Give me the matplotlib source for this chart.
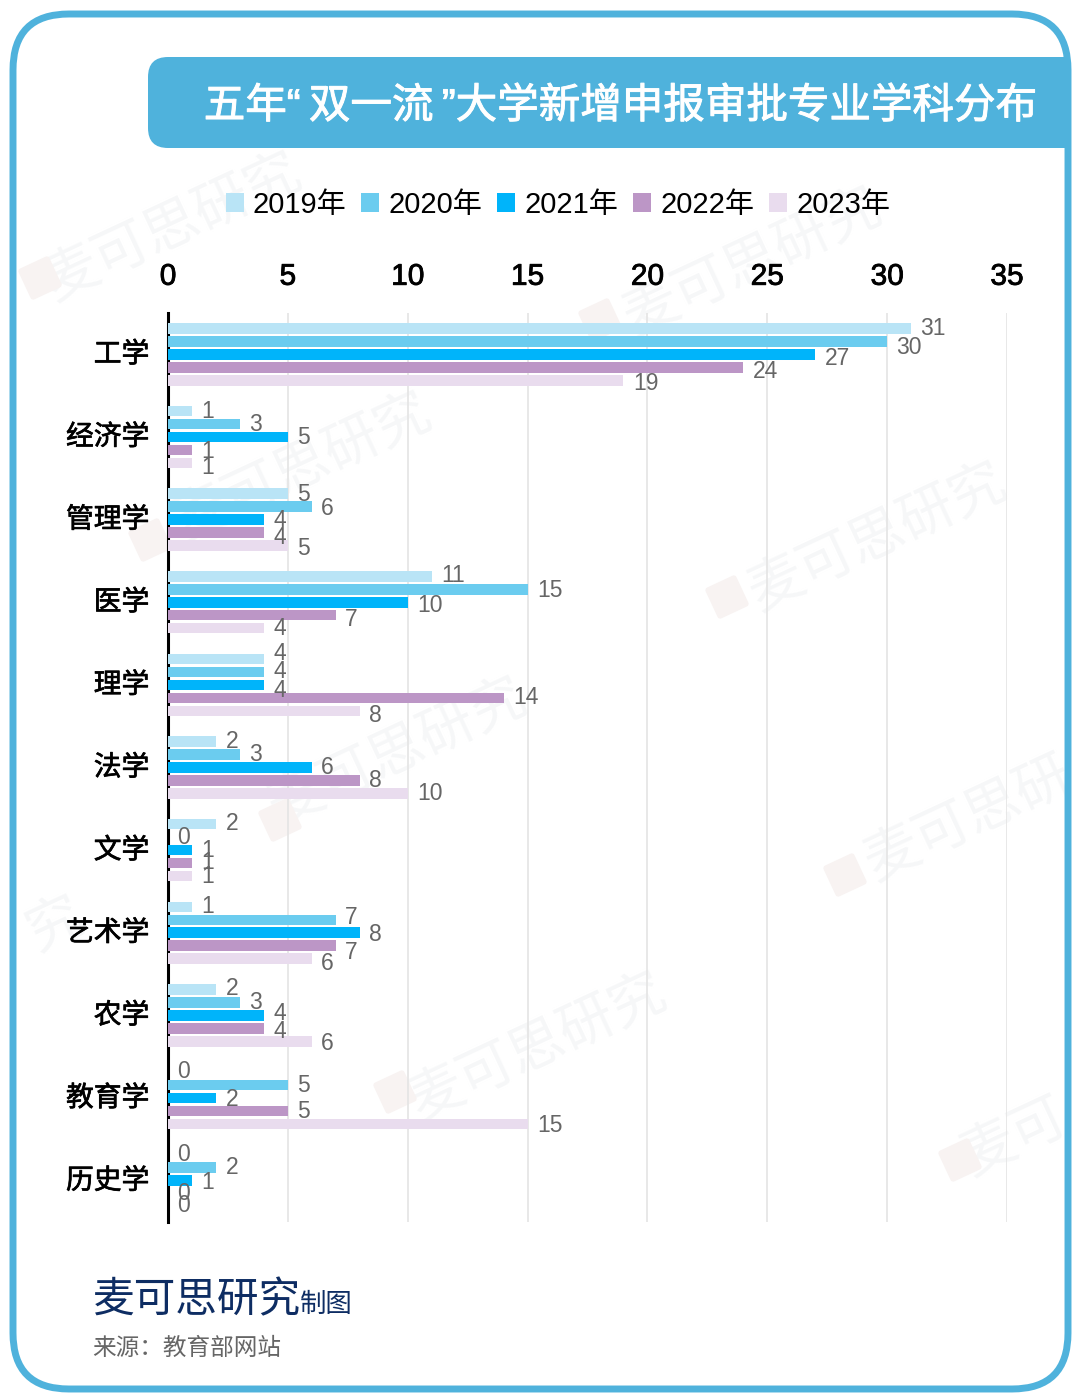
#!/usr/bin/env python3

import numpy as np
import matplotlib
matplotlib.use('Agg')
import matplotlib.pyplot as plt
import matplotlib.patheffects as pe
from matplotlib.patches import FancyBboxPatch
from matplotlib.transforms import Affine2D, ScaledTranslation

W, H = 1080, 1399

CATEGORIES = ['工学', '经济学', '管理学', '医学', '理学', '法学', '文学', '艺术学', '农学', '教育学', '历史学']
YEARS = ['2019年', '2020年', '2021年', '2022年', '2023年']
Y2019 = [31, 1, 5, 11, 4, 2, 2, 1, 2, 0, 0]
Y2020 = [30, 3, 6, 15, 4, 3, 0, 7, 3, 5, 2]
Y2021 = [27, 5, 4, 10, 4, 6, 1, 8, 4, 2, 1]
Y2022 = [24, 1, 4, 7, 14, 8, 1, 7, 4, 5, 0]
Y2023 = [19, 1, 5, 4, 8, 10, 1, 6, 6, 15, 0]
SERIES = [Y2019, Y2020, Y2021, Y2022, Y2023]
COLORS = ['#B9E4F6', '#6BCCEF', '#00B4FA', '#BC96C6', '#E9DCEE']
XTICKS = [0, 5, 10, 15, 20, 25, 30, 35]

# vertical nudges of the value labels in pixels, the original has them hand placed
NUDGE = [
    [-1, 5, 3, 3, 2],
    [-1, -1, -1, 0, 3],
    [-1, 0, -1, 3, 1],
    [-2, 0, 2, 3, -1],
    [-7, -2, 4, -2, 3],
    [-2, -2, -1, -1, -1],
    [-2, -1, -1, -2, -1],
    [-2, -4, 0, 5, 3],
    [-2, -1, -3, 2, 1],
    [-2, -1, 0, -1, 0],
    [-2, -2, 0, -2, -3],
]

# watermark texts with their centre in pixels
WATERMARKS = [('麦可思研究', 172, 228), ('麦可思研究', 752, 263), ('麦可思研究', 302, 468),
              ('麦可思研究', 877, 538), ('麦可思研究', 397, 753), ('麦可思研', 968, 820),
              ('麦可思研究', 537, 1048), ('麦可', 1014, 1138), ('究', 55, 925)]
WM_LOGOS = [(40, 278), (600, 320), (150, 540), (727, 597), (280, 820),
            (845, 875), (395, 1092), (960, 1160)]

FONT = ['Liberation Sans', 'Noto Sans CJK SC']
CJK = ['Noto Sans CJK SC', 'DejaVu Sans']
BLUE = '#4FB2DC'
plt.rcParams['font.family'] = FONT

fig = plt.figure(figsize=(W / 100, H / 100), dpi=100, facecolor='white')

# background layer in pixel coordinates: frame, banner, watermark, footer
bg = fig.add_axes([0, 0, 1, 1], zorder=0)
bg.set_xlim(0, W)
bg.set_ylim(H, 0)
bg.axis('off')

clip = FancyBboxPatch((13, 14), 1055, 1375, boxstyle='round,pad=0,rounding_size=56',
                      fc='white', ec='none', zorder=0.1)
bg.add_patch(clip)

for label, x, y in WATERMARKS:
    bg.text(x, y, label, fontsize=40, color='#F6F7F8', rotation=25, zorder=0.5,
            rotation_mode='anchor', ha='center', va='center', family=CJK)
for x, y in WM_LOGOS:
    logo = FancyBboxPatch((x - 17, y - 17), 34, 34, boxstyle='round,pad=0,rounding_size=3',
                          fc='#F8F3F2', ec='none', zorder=0.6)
    bg.add_patch(logo)
    logo.set_transform(Affine2D().rotate_deg_around(x, y, -25) + bg.transData)
    logo.set_clip_path(clip)

banner = FancyBboxPatch((148, 57), 1000, 91, boxstyle='round,pad=0,rounding_size=20',
                        fc=BLUE, ec='none', zorder=1)
bg.add_patch(banner)
banner.set_clip_path(clip)
title = bg.text(620, 107, '五年“\u2009双一流\u2009”大学新增申报审批专业学科分布', fontsize=29.9, color='white',
                ha='center', va='center', family=FONT, zorder=3)
title.set_path_effects([pe.withStroke(linewidth=0.7, foreground='white')])

frame = FancyBboxPatch((13, 14), 1055, 1375, boxstyle='round,pad=0,rounding_size=56',
                       fc='none', ec=BLUE, lw=5, zorder=2)
bg.add_patch(frame)

bg.text(93, 1301, '麦可思研究', fontsize=30, color='#0E2D63', ha='left', va='center', family=CJK)
bg.text(300, 1304, '制图', fontsize=19, color='#0E2D63', ha='left', va='center', family=CJK)
bg.text(92, 1348, '来源：教育部网站', fontsize=17, color='#666666', ha='left', va='center', family=CJK)

# chart
ax = fig.add_axes([168 / W, 1 - 1222 / H, (1007 - 168) / W, (1222 - 313) / H], zorder=1)
ax.patch.set_alpha(0)

n = len(CATEGORIES)
ypos = np.arange(n)
step = 0.157
handles = []
for i, (vals, col, year) in enumerate(zip(SERIES, COLORS, YEARS)):
    y = ypos + (i - 2) * step
    bars = ax.barh(y, vals, height=0.128, color=col, label=year, zorder=3)
    handles.append(bars)
    for j, v in enumerate(vals):
        ax.annotate(str(v), (v, y[j]), xytext=(6.8, -(NUDGE[j][i] + 1.5) * 0.72),
                    textcoords='offset points', va='center', ha='left',
                    fontsize=16.5, color='#666666', zorder=4)

ax.set_xlim(0, 35)
ax.set_ylim(n - 0.5, -0.5)
ax.set_xticks(XTICKS)
ax.xaxis.tick_top()
ax.tick_params(axis='x', length=0, pad=16, labelsize=21.5, labelcolor='black')
for lab in ax.get_xticklabels():
    lab.set_family(['Liberation Sans'])
    lab.set_path_effects([pe.withStroke(linewidth=0.6, foreground='black')])
ax.set_yticks(ypos, CATEGORIES)
ax.tick_params(axis='y', length=0, pad=13.5, labelsize=20, labelcolor='black')
shift = ScaledTranslation(0, 2 / 72 * 0.72, fig.dpi_scale_trans)
for lab in ax.get_yticklabels():
    lab.set_transform(lab.get_transform() + shift)
    lab.set_path_effects([pe.withStroke(linewidth=0.5, foreground='black')])
ax.grid(axis='x', color='#E4E4E4', lw=1.2, zorder=0)
ax.set_axisbelow(True)
for s in ['top', 'right', 'bottom']:
    ax.spines[s].set_visible(False)
ax.spines['left'].set_color('black')
ax.spines['left'].set_linewidth(2.2)

leg = fig.legend(handles=handles, loc='center', ncol=5, frameon=False, fontsize=21,
                 bbox_to_anchor=(558 / W, 1 - 205 / H), handlelength=0.62, handleheight=0.62,
                 handletextpad=0.32, columnspacing=0.5, borderpad=0, borderaxespad=0)

fig.savefig('out.png', dpi=100)
